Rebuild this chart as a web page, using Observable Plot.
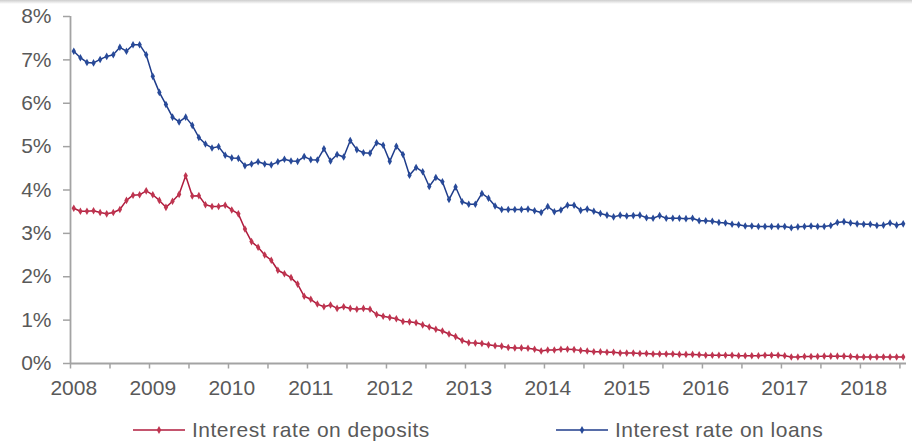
<!DOCTYPE html>
<html>
<head>
<meta charset="utf-8">
<script src="https://cdn.jsdelivr.net/npm/d3@7"></script>
<script src="https://cdn.jsdelivr.net/npm/@observablehq/plot@0.6"></script>
<style>
  body { margin: 0; background: #fff; font-family: "Liberation Sans", Arial, sans-serif; }
  #wrap { position: relative; width: 912px; height: 441px; overflow: hidden; background: #fff; }
  #topbar { position: absolute; left: 0; top: 0; width: 912px; height: 4px; background: linear-gradient(#cdcdcd, #ffffff); z-index: 2; }
  #chart { position: absolute; left: 0; top: 0; }
  #legend { position: absolute; left: 0; top: 400px; }
</style>
</head>
<body>
<div id="wrap">
  <div id="chart"></div>
  <div id="topbar"></div>
  <svg id="legend" width="912" height="41"></svg>
</div>
<script>
// Monthly data, January 2008 – July 2018
const years = ["2008","2009","2010","2011","2012","2013","2014","2015","2016","2017","2018"];
const yTicks = [0, 1, 2, 3, 4, 5, 6, 7, 8];
const seriesNames = ["Interest rate on deposits", "Interest rate on loans"];

const deposits = [
  3.58,3.51,3.51,3.52,3.48,3.45,3.48,3.55,3.76,3.88,3.89,3.98,
  3.89,3.76,3.60,3.74,3.90,4.33,3.86,3.87,3.66,3.62,3.62,3.65,
  3.54,3.45,3.10,2.81,2.68,2.50,2.38,2.15,2.07,1.98,1.83,1.55,
  1.48,1.37,1.31,1.35,1.27,1.31,1.27,1.25,1.27,1.25,1.13,1.09,
  1.06,1.03,0.97,0.96,0.94,0.89,0.84,0.79,0.75,0.68,0.62,0.53,
  0.48,0.47,0.46,0.43,0.41,0.40,0.37,0.36,0.36,0.35,0.33,0.29,
  0.31,0.31,0.33,0.33,0.32,0.30,0.29,0.27,0.27,0.26,0.26,0.24,
  0.24,0.24,0.23,0.23,0.22,0.22,0.22,0.22,0.21,0.21,0.21,0.20,
  0.19,0.19,0.19,0.19,0.19,0.18,0.18,0.18,0.18,0.19,0.19,0.19,
  0.18,0.15,0.15,0.16,0.16,0.16,0.17,0.17,0.17,0.17,0.16,0.15,
  0.15,0.15,0.15,0.15,0.15,0.15,0.15
];

const loans = [
  7.20,7.05,6.94,6.93,7.01,7.08,7.12,7.29,7.20,7.35,7.35,7.12,
  6.62,6.25,5.97,5.68,5.57,5.68,5.49,5.21,5.06,4.97,5.00,4.80,
  4.74,4.73,4.56,4.60,4.65,4.60,4.58,4.65,4.71,4.67,4.66,4.77,
  4.70,4.69,4.95,4.67,4.82,4.76,5.14,4.93,4.86,4.85,5.09,5.03,
  4.66,5.01,4.82,4.34,4.52,4.42,4.08,4.29,4.19,3.78,4.07,3.73,
  3.67,3.67,3.92,3.81,3.63,3.55,3.55,3.55,3.55,3.56,3.52,3.48,
  3.62,3.50,3.54,3.65,3.65,3.53,3.56,3.51,3.46,3.42,3.38,3.42,
  3.40,3.41,3.42,3.36,3.35,3.41,3.35,3.35,3.35,3.34,3.35,3.29,
  3.29,3.28,3.25,3.24,3.21,3.20,3.17,3.17,3.16,3.16,3.16,3.16,
  3.16,3.13,3.15,3.16,3.17,3.16,3.16,3.18,3.25,3.27,3.24,3.22,
  3.21,3.21,3.18,3.19,3.24,3.19,3.22
];

const depColor = "#b01c3e";
const loanColor = "#1f3d8b";
const axisGray = "#a3a3a3";
const textGray = "#595959";

const depRows = deposits.map((v, i) => ({ i, v, s: seriesNames[0] }));
const loanRows = loans.map((v, i) => ({ i, v, s: seriesNames[1] }));
const n = deposits.length;
const halfYearTicks = d3.range(0, Math.floor(n / 6) + 1).map(k => k * 6 - 0.5);
const yearTicks = years.map((y, j) => j * 12);

const chart = Plot.plot({
  width: 912,
  height: 400,
  marginLeft: 70,
  marginRight: 6,
  marginTop: 16,
  marginBottom: 37,
  x: { type: "linear", domain: [-0.5, n - 0.5], label: null },
  y: { domain: [0, 8], label: null },
  style: { fontFamily: "'Liberation Sans', Arial, sans-serif", fontSize: "21px", color: textGray, background: "transparent", overflow: "visible" },
  marks: [
    Plot.axisY({ ticks: yTicks, tickSize: 7, tickPadding: 12, tickFormat: d => d + "%", stroke: axisGray, strokeWidth: 1.5, fill: textGray, fontSize: 21, label: null }),
    Plot.axisX({ ticks: halfYearTicks, tickSize: 5.5, tickFormat: () => "", stroke: axisGray, strokeWidth: 1.5, label: null }),
    Plot.axisX({ ticks: yearTicks, tickSize: 0, tickPadding: 17, tickFormat: i => years[i / 12], fill: textGray, fontSize: 21, label: null }),
    Plot.ruleY([0], { stroke: axisGray, strokeWidth: 1.8 }),
    Plot.ruleX([-0.5], { y1: 0, y2: 8, stroke: axisGray, strokeWidth: 1.8 }),
    Plot.line(depRows, { x: "i", y: "v", stroke: depColor, strokeWidth: 1.5 }),
    Plot.dot(depRows, { x: "i", y: "v", symbol: "diamond", r: 2.3, fill: "#bf3550", stroke: "none" }),
    Plot.line(loanRows, { x: "i", y: "v", stroke: loanColor, strokeWidth: 1.5 }),
    Plot.dot(loanRows, { x: "i", y: "v", symbol: "diamond", r: 2.3, fill: "#284a99", stroke: "none" })
  ]
});
document.getElementById("chart").appendChild(chart);

// Legend below the chart
const leg = d3.select("#legend");
const items = [
  { name: seriesNames[0], color: depColor, mcolor: "#bf3550", x: 133 },
  { name: seriesNames[1], color: loanColor, mcolor: "#284a99", x: 556 }
];
items.forEach(it => {
  leg.append("line").attr("x1", it.x).attr("x2", it.x + 52).attr("y1", 30).attr("y2", 30)
    .attr("stroke", it.color).attr("stroke-width", 1.5);
  leg.append("path").attr("d", d3.symbol(d3.symbolDiamond, 18)()).attr("transform", `translate(${it.x + 26},30)`)
    .attr("fill", it.mcolor);
  leg.append("text").attr("x", it.x + 59).attr("y", 36.5).attr("fill", textGray)
    .attr("font-size", 21).attr("letter-spacing", 0.5)
    .attr("font-family", "'Liberation Sans', Arial, sans-serif").text(it.name);
});
</script>
</body>
</html>
